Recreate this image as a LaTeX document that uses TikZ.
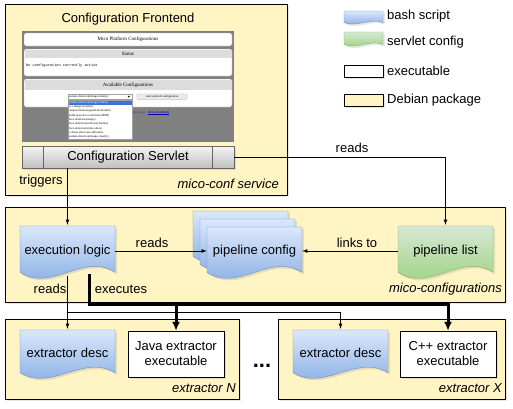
\documentclass[tikz,border=0pt]{standalone}
\usepackage{fontspec}
\setmainfont{Liberation Sans}
\newfontfamily\shotserif{Liberation Serif}
\newfontfamily\shotmono{Liberation Mono}
\tikzset{>=latex}
\usetikzlibrary{positioning,arrows,arrows.meta,shadows}
\definecolor{pkgyellow}{HTML}{FFF4C4}
\definecolor{bluetop}{HTML}{DAE8FC}
\definecolor{bluebot}{HTML}{7EA6E0}
\definecolor{blueline}{HTML}{6C8EBF}
\definecolor{greentop}{HTML}{D5E8D4}
\definecolor{greenbot}{HTML}{97D077}
\definecolor{greenline}{HTML}{82B366}
\definecolor{shotgrey}{HTML}{808080}
\definecolor{panelline}{HTML}{A0A0A0}
\definecolor{panelhead}{HTML}{DCDCDC}
\definecolor{selblue}{HTML}{3875D7}
\definecolor{linkpurple}{HTML}{663399}

% document with a wavy bottom: centre x, centre y, width, height, look
\newcommand{\docshape}[5]{%
  \path[#5] (#1-#3/2,#2-#4/2) -- (#1+#3/2,#2-#4/2) -- (#1+#3/2,#2+0.39*#4)
    .. controls (#1+#3/6,#2-0.01*#4) and (#1-#3/6,#2+0.79*#4) .. (#1-#3/2,#2+0.39*#4) -- cycle;
}

\tikzset{
  shadowed/.style={drop shadow={opacity=0.2,shadow xshift=2pt,shadow yshift=-2pt}},
  pkgbox/.style={draw=black,fill=pkgyellow,shadowed},
  pkglabel/.style={font=\fontsize{13}{15}\selectfont\itshape,anchor=east,inner sep=0pt},
  bluedoc/.style={top color=bluetop,bottom color=bluebot,draw=blueline,shadowed},
  greendoc/.style={top color=greentop,bottom color=greenbot,draw=greenline,shadowed},
  doctext/.style={inner sep=0pt,minimum width=95pt,minimum height=#1},
  doctext/.default=52pt,
  exebox/.style={draw,fill=white,shadowed,minimum width=96pt,minimum height=46pt,align=center,inner sep=0pt},
  servletbox/.style={draw=black!60,top color=black!4,bottom color=black!25,shadowed,
    minimum width=212pt,minimum height=22pt,inner sep=0pt},
  lbl/.style={inner sep=1pt},
  readline/.style={->,line width=0.8pt},
  exeline/.style={-{Latex[length=9pt,width=8pt]},line width=3pt},
  panel/.style={draw=panelline,fill=white,rounded corners=2pt,line width=0.4pt},
  shottitle/.style={font=\shotserif\fontsize{5}{6}\selectfont,inner sep=0pt},
  shotitem/.style={font=\shotserif\fontsize{3}{3.5}\selectfont,inner sep=0pt,anchor=west},
}

\begin{document}
\begin{tikzpicture}[x=1pt,y=-1pt,font=\fontsize{13}{15}\selectfont]
  \useasboundingbox (0,0) rectangle (513,408);

  % packages
  \path[pkgbox] (5,4) rectangle (287,195);
  \path[pkgbox] (5,207) rectangle (505,302);
  \path[pkgbox] (5,319) rectangle (239,399);
  \path[pkgbox] (278,319) rectangle (505,399);
  \node[pkglabel] (confsvc) at (279,184) {mico-conf service};
  \node[pkglabel] (configs) at (502,289) {mico-configurations};
  \node[pkglabel] (extN) at (236,388) {extractor N};
  \node[pkglabel] (extX) at (502,388) {extractor X};

  % configuration frontend with its screenshot
  \node (frontend) at (128,19) {Configuration Frontend};
  \fill[shotgrey] (22,31) rectangle (234,142);
  \path[panel] (24,33) rectangle (232,46);
  \node[shottitle] (shotmain) at (128,39.5) {Mico Platform Configurations};
  \path[panel] (24,49) rectangle (232,76);
  \fill[panelhead] (24.5,49.5) rectangle (231.5,58);
  \node[shottitle] (shotstatus) at (128,54) {Status};
  \node[font=\shotmono\fontsize{3.6}{4}\selectfont,inner sep=0pt,anchor=west] (shotnone) at (26,66) {No configuration currently active};
  \path[panel] (24,79) rectangle (232,107);
  \fill[panelhead] (24.5,79.5) rectangle (231.5,90);
  \node[shottitle] (shotavail) at (128,85) {Available Configurations};
  \draw[panelline,fill=white,line width=0.3pt] (68,94) rectangle (132,99.5);
  \node[shotitem] (shotcombo) at (69,96.8) {animal-detection(image,kleinke)};
  \fill (127.5,95.8) -- (130,95.8) -- (128.75,97.6) -- cycle;
  \draw[panelline,fill=black!8,rounded corners=1pt,line width=0.3pt] (137,94) rectangle (187,99.5);
  \node[shottitle,font=\shotserif\fontsize{3}{3.5}\selectfont] (shotstart) at (162,96.8) {start selected configuration};
  \node[shottitle,font=\shotserif\fontsize{3.5}{4}\selectfont,text=linkpurple,anchor=east] (shotpage) at (146,113) {manager page};
  \node[shottitle,font=\shotserif\fontsize{3.5}{4}\selectfont,text=blue!70!black,anchor=west] (shotmoments) at (148,113) {\underline{show moments}};
  \draw[panelline,fill=white,line width=0.3pt] (68,100) rectangle (132,139);
  \fill[selblue] (68.5,100.5) rectangle (131.5,104.5);
  \node[shotitem,text=white] (shotsel) at (69,102.5) {animal-detection(image,kleinke)};
  \foreach \entry [count=\i] in {{ocr-image-text(text)},{temporalvideosegmentation(video)},
      {kaldi-speech-to-text(video,MED)},{face-detection(image)},{face-detection(video,keyframes)},
      {face-detection(video,shots)},{c-demo-showcase-all(video)},{animal-detection(image,classify)}}
    \node[shotitem] at (69,102.5+\i*4.3) {\entry};

  \node[servletbox] (servlet) at (128,157) {Configuration Servlet};
  \draw[black!60] ([xshift=21pt]servlet.north west) -- ([xshift=21pt]servlet.south west);
  \draw[black!60] ([xshift=-22pt]servlet.north east) -- ([xshift=-22pt]servlet.south east);

  % mico-configurations
  \docshape{67.5}{252}{95}{52}{bluedoc}
  \node[doctext] (execlogic) at (67.5,251) {execution logic};
  \docshape{240.5}{236.5}{95}{51}{bluedoc}
  \docshape{247.5}{244.5}{95}{51}{bluedoc}
  \docshape{254.5}{252.5}{95}{51}{bluedoc}
  \node[doctext=51pt] (pipeconfig) at (254.5,251) {pipeline config};
  \docshape{445.5}{252}{95}{52}{greendoc}
  \node[doctext] (pipelist) at (445.5,251) {pipeline list};

  % extractors
  \docshape{67.5}{354}{95}{48}{bluedoc}
  \node[doctext=48pt] (descN) at (67.5,353) {extractor desc};
  \node[exebox] (javaexe) at (176,354) {Java extractor\\executable};
  \node[font=\bfseries\fontsize{22}{22}\selectfont,inner sep=0pt] (dots) at (262,366) {...};
  \docshape{340.5}{354}{95}{48}{bluedoc}
  \node[doctext=48pt] (descX) at (340.5,353) {extractor desc};
  \node[exebox] (cppexe) at (448,354) {C++ extractor\\executable};

  % connectors
  \draw[readline] (servlet.east) -| (pipelist.north);
  \node[lbl] (readsservlet) at (352,148) {reads};
  \draw[readline] (servlet.south -| execlogic.north) -- (execlogic.north);
  \node[lbl] (triggers) at (41,181) {triggers};
  \draw[readline] (execlogic.east) -- (pipeconfig.west);
  \node[lbl] (readsconf) at (152,243) {reads};
  \draw[readline] (pipelist.west) -- (pipeconfig.east);
  \node[lbl] (linksto) at (357,243) {links to};

  \coordinate (readbend) at (67.5,312);
  \draw[readline] ([yshift=1pt]execlogic.south) -- (descN.north);
  \draw[readline] (readbend) -| (descX.north);
  \node[lbl] (readsdesc) at (50,289) {reads};

  \coordinate (exestart) at (89,274);
  \coordinate (exebend) at (89,304);
  \draw[exeline] (exestart) -- (exebend) -| (cppexe.north);
  \draw[exeline] (exebend -| javaexe.north) -- (javaexe.north);
  \node[lbl] (executes) at (121,289) {executes};

  % legend
  \docshape{363.5}{17.5}{39}{13}{bluedoc}
  \node[lbl,anchor=west] (lgbash) at (386,16) {bash script};
  \docshape{363.5}{39}{39}{14}{greendoc}
  \node[lbl,anchor=west] (lgservlet) at (386,42) {servlet config};
  \path[draw,fill=white,shadowed] (344,65) rectangle (383,77);
  \node[lbl,anchor=west] (lgexe) at (386,71) {executable};
  \path[draw,fill=pkgyellow,shadowed] (344,94) rectangle (383,106);
  \node[lbl,anchor=west] (lgdeb) at (386,100) {Debian package};
\end{tikzpicture}
\end{document}
